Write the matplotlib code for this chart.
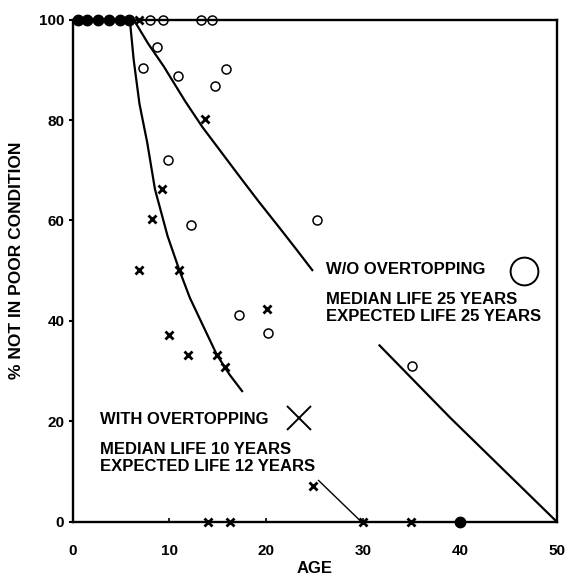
import matplotlib.pyplot as plt

plt.rcParams["font.family"] = "Liberation Sans"
plt.rcParams["font.weight"] = "bold"
plt.rcParams["axes.labelweight"] = "bold"

# survey points: % of structures not in poor condition vs. age (years)
circle_age = [8.0, 9.3, 13.3, 14.4, 8.7, 7.3, 10.9, 15.8, 14.7, 9.85, 12.2, 17.2, 20.2, 25.2, 35.1]
circle_pct = [100, 100, 100, 100, 94.6, 90.4, 88.7, 90.1, 86.7, 72.0, 59.0, 41.1, 37.6, 60.1, 31.0]

cross_age = [6.9, 13.65, 9.2, 8.2, 6.9, 11.0, 20.1, 9.9, 11.9, 14.9, 15.7, 24.8, 14.0, 16.3, 30.0, 35.0]
cross_pct = [100, 80.3, 66.2, 60.2, 50.2, 50.2, 42.4, 37.2, 33.1, 33.2, 30.7, 7.0, 0, 0, 0, 0]

dot_age = [0.5, 1.5, 2.6, 3.8, 4.9, 5.8, 40.0]
dot_pct = [100, 100, 100, 100, 100, 100, 0]

# hand-fitted survival curves
with_age = [5.9, 6.3, 6.9, 7.7, 8.5, 9.8, 11.0, 12.1, 13.3, 14.9, 16.2, 17.5]
with_pct = [100, 92.0, 83.2, 75.5, 66.2, 56.9, 50.2, 44.6, 39.7, 33.2, 29.3, 26.0]

wo_age_upper = [6.3, 7.8, 9.4, 11.6, 13.4, 15.35, 17.3, 19.2, 21.5, 23.2, 24.75]
wo_pct_upper = [100, 95.2, 90.7, 83.8, 78.6, 73.6, 68.6, 63.8, 58.2, 54.0, 50.1]
wo_age_lower = [31.7, 39.0, 50.0]
wo_pct_lower = [35.1, 20.7, 0]

tail_age = [25.4, 29.8]
tail_pct = [8.2, 0]

fig = plt.figure(figsize=(5.68, 5.77), dpi=100)
ax = fig.add_axes([0.128, 0.096, 0.852, 0.870])

ax.plot(with_age, with_pct, color="black", lw=1.6)
ax.plot(wo_age_upper, wo_pct_upper, color="black", lw=1.6)
ax.plot(wo_age_lower, wo_pct_lower, color="black", lw=1.6)
ax.plot(tail_age, tail_pct, color="black", lw=1.0)

ax.plot(circle_age, circle_pct, "o", ms=6.5, mfc="white", mec="black", mew=1.1, clip_on=False)
ax.plot(cross_age, cross_pct, "x", ms=5.5, color="black", mew=2.0, clip_on=False)
ax.plot(dot_age, dot_pct, "o", ms=7.5, color="black", clip_on=False)

# key
ax.text(26.2, 50.2, "W/O OVERTOPPING", fontsize=12, va="center")
ax.text(26.2, 44.2, "MEDIAN LIFE 25 YEARS", fontsize=12, va="center")
ax.text(26.2, 40.9, "EXPECTED LIFE 25 YEARS", fontsize=12, va="center")
ax.plot([46.6], [50.0], "o", ms=20, mfc="none", mec="black", mew=1.4)

ax.text(2.8, 20.4, "WITH OVERTOPPING", fontsize=12, va="center")
ax.text(2.8, 14.4, "MEDIAN LIFE 10 YEARS", fontsize=12, va="center")
ax.text(2.8, 11.0, "EXPECTED LIFE 12 YEARS", fontsize=12, va="center")
ax.plot([23.4], [20.7], "x", ms=17, color="black", mew=1.4)

ax.set_xlim(0, 50)
ax.set_ylim(0, 100)
ax.set_xticks([0, 10, 20, 30, 40, 50])
ax.set_yticks([0, 20, 40, 60, 80, 100])
ax.tick_params(axis="x", direction="in", length=3, width=1.2, pad=16, labelsize=11)
ax.tick_params(axis="y", direction="out", length=3, width=1.5, pad=3, labelsize=11)
for side in ax.spines.values():
    side.set_linewidth(1.7)

ax.set_xlabel("AGE", fontsize=12)
ax.set_ylabel("% NOT IN POOR CONDITION", fontsize=12.5)
ax.xaxis.set_label_coords(0.5, -0.078)
ax.yaxis.set_label_coords(-0.1, 0.52)

fig.savefig("out.png", dpi=100)
